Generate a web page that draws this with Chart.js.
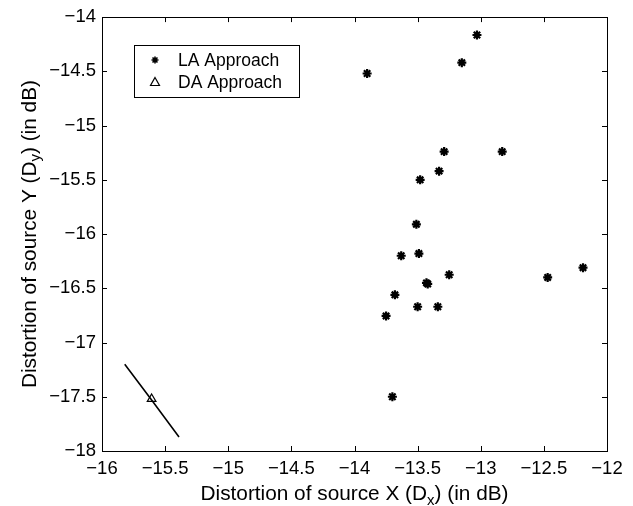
<!DOCTYPE html>
<html><head><meta charset="utf-8">
<script src="https://cdn.jsdelivr.net/npm/chart.js@4"></script>
<style>html,body{margin:0;padding:0;background:#fff}#wrap{width:633px;height:506px}</style>
</head><body><div id="wrap"><canvas id="c" width="633" height="506"></canvas></div>
<script>
const laX = [-13.90, -13.03, -13.15, -13.29, -12.83, -13.33, -13.48, -13.51, -13.63, -13.49, -13.25, -13.42, -13.43, -13.68, -13.50, -13.34, -13.75, -13.70, -12.47, -12.19];
const laY = [-14.52, -14.165, -14.42, -15.24, -15.24, -15.42, -15.50, -15.91, -16.20, -16.18, -16.375, -16.46, -16.45, -16.56, -16.67, -16.67, -16.755, -17.50, -16.40, -16.31];
const daX = [-15.607];
const daY = [-17.52];
const curveX = [-15.82, -15.607, -15.39];
const curveY = [-17.20, -17.53, -17.87];
const xTicks = [-16, -15.5, -15, -14.5, -14, -13.5, -13, -12.5, -12];
const yTicks = [-18, -17.5, -17, -16.5, -16, -15.5, -15, -14.5, -14];
const legendLabels = ['LA Approach', 'DA Approach'];

const FONT = '"Liberation Sans", Arial, sans-serif';
const fmt = v => String(v).replace('-', '\u2212');
const TITLE = 20.8;

function measureSub(ctx, parts, size) {
  let w = 0;
  const sub = Math.round(size * 0.7);
  parts.forEach(p => { ctx.font = (p[1] ? sub : size) + 'px ' + FONT; w += ctx.measureText(p[0]).width; });
  return w;
}
function fillSub(ctx, parts, size, x, y) {
  const sub = Math.round(size * 0.7);
  parts.forEach(p => {
    ctx.font = (p[1] ? sub : size) + 'px ' + FONT;
    ctx.fillText(p[0], x, p[1] ? y + size * 0.22 : y);
    x += ctx.measureText(p[0]).width;
  });
}

const framePlugin = {
  id: 'frame',
  afterDraw(chart) {
    const ctx = chart.ctx, a = chart.chartArea;
    const xs = chart.scales.x, ys = chart.scales.y;
    ctx.save();
    ctx.strokeStyle = '#000';
    ctx.lineWidth = 1;
    ctx.strokeRect(Math.round(a.left) + 0.5, Math.round(a.top) + 0.5, Math.round(a.right - a.left), Math.round(a.bottom - a.top));
    const tl = 5;
    ctx.beginPath();
    xTicks.forEach(v => {
      const px = Math.round(xs.getPixelForValue(v)) + 0.5;
      ctx.moveTo(px, a.bottom); ctx.lineTo(px, a.bottom - tl);
      ctx.moveTo(px, a.top); ctx.lineTo(px, a.top + tl);
    });
    yTicks.forEach(v => {
      const py = Math.round(ys.getPixelForValue(v)) + 0.5;
      ctx.moveTo(a.left, py); ctx.lineTo(a.left + tl, py);
      ctx.moveTo(a.right, py); ctx.lineTo(a.right - tl, py);
    });
    ctx.stroke();

    ctx.fillStyle = '#000';
    ctx.textBaseline = 'alphabetic';
    ctx.textAlign = 'left';
    const cx = (a.left + a.right) / 2, cy = (a.top + a.bottom) / 2;
    const xt = [['Distortion of source X (D', false], ['x', true], [') (in dB)', false]];
    const xw = measureSub(ctx, xt, TITLE);
    fillSub(ctx, xt, TITLE, cx - xw / 2, 500);
    const yt = [['Distortion of source Y (D', false], ['y', true], [') (in dB)', false]];
    const yw = measureSub(ctx, yt, TITLE);
    ctx.translate(35.5, cy);
    ctx.rotate(-Math.PI / 2);
    fillSub(ctx, yt, TITLE, -yw / 2, 0);
    ctx.restore();

    ctx.save();
    const lx = 134, ly = 45, lw = 165, lh = 52;
    ctx.fillStyle = '#fff';
    ctx.fillRect(lx, ly, lw, lh);
    ctx.strokeStyle = '#000';
    ctx.lineWidth = 1;
    ctx.strokeRect(lx + 0.5, ly + 0.5, lw, lh);
    ctx.fillStyle = '#000';
    ctx.font = '17.5px ' + FONT;
    ctx.textBaseline = 'middle';
    ctx.textAlign = 'left';
    const rows = [ly + 15, ly + 37];
    legendLabels.forEach((t, i) => ctx.fillText(t, lx + 44, rows[i] + 1));
    const sx = lx + 21, sy = rows[0];
    ctx.lineWidth = 1.6;
    ctx.beginPath();
    for (let k = 0; k < 4; k++) {
      const ang = k * Math.PI / 4;
      ctx.moveTo(sx - 3.5 * Math.cos(ang), sy - 3.5 * Math.sin(ang));
      ctx.lineTo(sx + 3.5 * Math.cos(ang), sy + 3.5 * Math.sin(ang));
    }
    ctx.stroke();
    const tx = lx + 21, ty = rows[1];
    ctx.lineWidth = 1.2;
    ctx.beginPath();
    ctx.moveTo(tx, ty - 4.5); ctx.lineTo(tx + 4.5, ty + 3.5); ctx.lineTo(tx - 4.5, ty + 3.5); ctx.closePath();
    ctx.stroke();
    ctx.restore();
  }
};

new Chart(document.getElementById('c'), {
  type: 'scatter',
  data: {
    datasets: [
      { label: legendLabels[0], data: laX.map((x, i) => ({x, y: laY[i]})), pointStyle: 'star', radius: 4.5, borderWidth: 2.2, borderColor: '#000', backgroundColor: '#000' },
      { label: legendLabels[1], data: daX.map((x, i) => ({x, y: daY[i]})), pointStyle: 'triangle', radius: 5, borderWidth: 1.2, borderColor: '#000', backgroundColor: 'rgba(255,255,255,0)' },
      { label: 'curve', type: 'line', data: curveX.map((x, i) => ({x, y: curveY[i]})), showLine: true, borderColor: '#000', borderWidth: 1.6, pointRadius: 0, fill: false, tension: 0 }
    ]
  },
  options: {
    responsive: false,
    animation: false,
    events: [],
    layout: { padding: { left: 0, right: 26, top: 16, bottom: 0 } },
    plugins: { legend: { display: false }, tooltip: { enabled: false } },
    scales: {
      x: {
        type: 'linear', min: -16, max: -12,
        afterBuildTicks(s) { s.ticks = xTicks.map(v => ({value: v})); },
        afterFit(s) { s.height = 55; },
        grid: { display: false, drawTicks: false },
        border: { display: false },
        ticks: { color: '#000', font: { family: FONT, size: 18.5 }, padding: 7, maxRotation: 0, autoSkip: false, callback: v => fmt(v) }
      },
      y: {
        type: 'linear', min: -18, max: -14,
        afterBuildTicks(s) { s.ticks = yTicks.map(v => ({value: v})); },
        afterFit(s) { s.width = 102; },
        grid: { display: false, drawTicks: false },
        border: { display: false },
        ticks: { color: '#000', font: { family: FONT, size: 18.5 }, padding: 6, autoSkip: false, callback: v => fmt(v) }
      }
    }
  },
  plugins: [framePlugin]
});
</script>
</body></html>
